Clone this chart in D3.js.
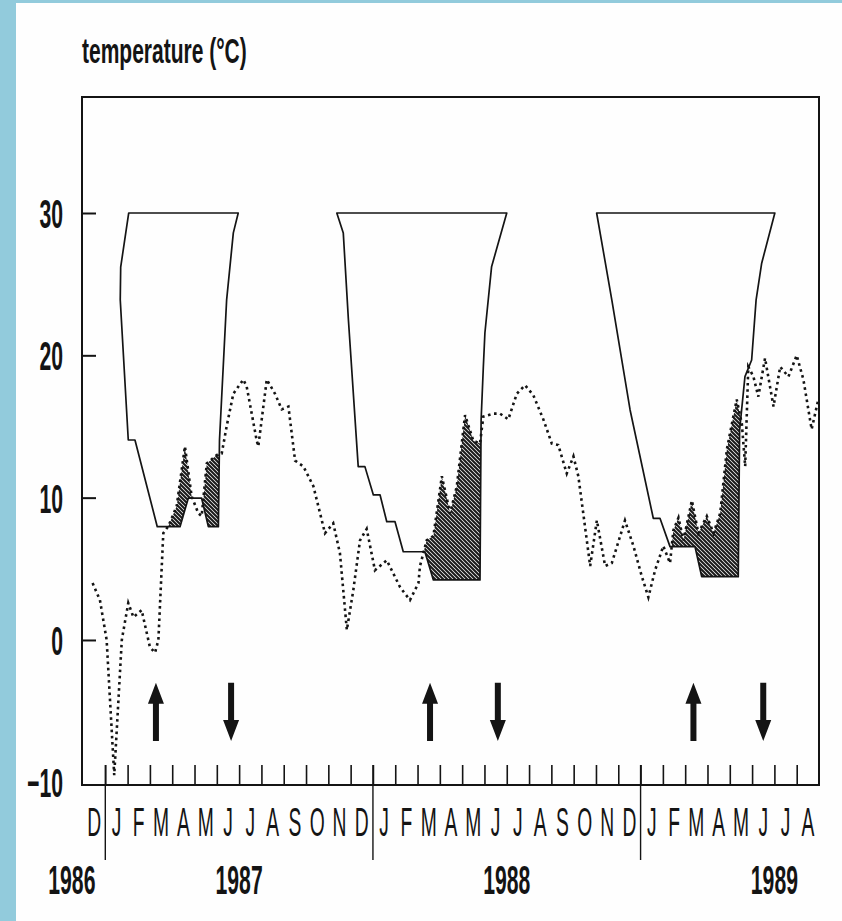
<!DOCTYPE html>
<html>
<head>
<meta charset="utf-8">
<script src="https://cdn.jsdelivr.net/npm/d3@7"></script>
<style>
  body { margin: 0; background: #fff; }
  svg { display: block; }
</style>
</head>
<body>
<div id="chart"></div>
<script>
// month index: 0 = 1 Dec 1986, 1 = 1 Jan 1987 ... 33 = 1 Sep 1989
let monthLetters = ["D", "J", "F", "M", "A", "M", "J", "J", "A", "S", "O", "N",
    "D", "J", "F", "M", "A", "M", "J", "J", "A", "S", "O", "N",
    "D", "J", "F", "M", "A", "M", "J", "J", "A"];
let yearLabels = [{label: "1986", m: -0.5}, {label: "1987", m: 7}, {label: "1988", m: 19}, {label: "1989", m: 31}];
let yearBreaks = [1, 13, 25];
let yTicks = [30, 20, 10, 0, -10];

// field temperature [month index, degC]
let fieldTemp = [[0.43, 4.0], [0.76, 2.8], [1.06, 0], [1.4, -9.5], [1.74, 0], [2.03, 2.6], [2.26, 1.6], [2.63, 2.1],
    [3.0, -0.5], [3.23, -0.9], [3.38, 0], [3.6, 7.5], [3.83, 8.0], [4.2, 9.4], [4.57, 13.6], [4.87, 10.1],
    [5.17, 8.9], [5.32, 8.7], [5.55, 12.4], [6.0, 13.0], [6.22, 13.1], [6.44, 15.0], [6.74, 17.3], [7.19, 18.3],
    [7.34, 17.8], [7.79, 14.0], [7.86, 13.6], [8.24, 18.3], [8.61, 17.3], [8.91, 16.2], [9.21, 16.4], [9.51, 12.6],
    [9.88, 12.2], [10.33, 10.8], [10.85, 7.5], [11.22, 8.2], [11.52, 6.1], [11.83, 0.7], [12.12, 3.5], [12.42, 7.0],
    [12.72, 7.8], [13.09, 4.9], [13.62, 5.6], [14.22, 3.7], [14.66, 2.8], [15.04, 4.0], [15.11, 5.2], [15.41, 7.0],
    [15.71, 7.3], [16.09, 11.5], [16.46, 8.9], [16.76, 10.8], [17.13, 15.8], [17.5, 14.0], [17.8, 13.8], [17.95, 15.7],
    [18.4, 15.9], [18.7, 15.9], [19.07, 15.5], [19.45, 17.3], [19.82, 17.9], [20.19, 17.2], [20.64, 15.5], [21.02, 13.8],
    [21.31, 13.7], [21.69, 11.7], [21.99, 12.9], [22.21, 11.5], [22.43, 8.9], [22.74, 5.2], [23.04, 8.4], [23.41, 5.2],
    [23.71, 5.4], [24.3, 8.4], [24.68, 6.6], [25.05, 4.5], [25.35, 3.0], [25.65, 4.9], [26.02, 6.6], [26.32, 5.4],
    [26.47, 7.7], [26.7, 8.6], [26.92, 7.0], [27.3, 9.8], [27.59, 7.5], [27.97, 8.7], [28.27, 7.5], [28.57, 8.9],
    [28.87, 13.4], [29.31, 16.9], [29.54, 15.2], [29.69, 12.2], [29.83, 19.2], [30.06, 18.5], [30.28, 17.1], [30.58, 19.8],
    [30.96, 16.4], [31.26, 19.2], [31.63, 18.5], [32.0, 20.0], [32.3, 18.3], [32.67, 14.8], [32.97, 16.9]];

// germination range: lower limit path, closed along the 30 degC upper limit
let envelope1987 = [[2.05, 30], [1.69, 26.2], [1.67, 23.9], [2.03, 14.05], [2.33, 14.05], [3.33, 7.96], [4.35, 7.96],
    [4.72, 9.96], [5.32, 9.96], [5.62, 7.96], [6.07, 7.96], [6.12, 14.05], [6.44, 23.9], [6.74, 28.6], [6.96, 30]];
let envelope1988 = [[11.38, 30], [11.67, 28.6], [11.9, 22.5], [12.34, 12.18], [12.64, 12.18], [13.02, 10.19], [13.32, 10.19],
    [13.62, 8.31], [13.99, 8.31], [14.36, 6.2], [15.33, 6.2], [15.71, 4.22], [17.8, 4.22], [17.85, 15.46], [17.95, 19.2],
    [18.02, 21.57], [18.32, 26.23], [19.0, 30]];
let envelope1989 = [[23.03, 30], [23.71, 23.9], [24.53, 16.16], [25.57, 8.55], [25.87, 8.55], [26.32, 6.56], [27.44, 6.56],
    [27.74, 4.45], [29.38, 4.45], [29.44, 14.75], [29.68, 18.5], [29.98, 19.67], [30.18, 23.9], [30.43, 26.47], [31.02, 30]];

let emergenceStart = [3.27, 15.56, 27.37];
let emergenceEnd = [6.64, 18.6, 30.5];

let W = 842, H = 921;
let svg = d3.select("#chart").append("svg").attr("width", W).attr("height", H);
svg.append("rect").attr("width", W).attr("height", H).attr("fill", "#92cbdc");
svg.append("rect").attr("x", 16).attr("y", 3).attr("width", W - 16).attr("height", H - 3).attr("fill", "#fefefe");

let x = d3.scaleLinear().domain([0, 33]).range([83, 819]);
let y = d3.scaleLinear().domain([-10.19, 38.15]).range([785, 97]);
let ink = "#141414";
let font = "'Liberation Sans', Arial, sans-serif";

let defs = svg.append("defs");
let pat = defs.append("pattern").attr("id", "hatch").attr("patternUnits", "userSpaceOnUse").attr("width", 4).attr("height", 4);
pat.append("rect").attr("width", 4).attr("height", 4).attr("fill", "#fff");
pat.append("path").attr("d", "M-1,-1L5,5M-1,3L1,5M3,-1L5,1").attr("stroke", "#1b1b1b").attr("stroke-width", 2.1);

let envelopes = [envelope1987, envelope1988, envelope1989];
let envLine = d3.line().x(d => x(d[0])).y(d => y(d[1]));
let clip = defs.append("clipPath").attr("id", "envClip");
envelopes.forEach(e => clip.append("path").attr("d", envLine(e) + "Z"));

// hatched = field temperature above the lower limit, inside the envelope
let under = d3.area().x(d => x(d[0])).y0(y.range()[0]).y1(d => y(d[1]));
svg.append("path").attr("d", under(fieldTemp)).attr("fill", "url(#hatch)").attr("clip-path", "url(#envClip)");

envelopes.forEach(e => {
    svg.append("path").attr("d", envLine(e) + "Z").attr("fill", "none")
        .attr("stroke", ink).attr("stroke-width", 1.7).attr("stroke-linejoin", "round");
});

svg.append("path").attr("d", d3.line().x(d => x(d[0])).y(d => y(d[1]))(fieldTemp))
    .attr("fill", "none").attr("stroke", ink).attr("stroke-width", 2.6).attr("stroke-dasharray", "2.6 3.6");

// frame
svg.append("rect").attr("x", x(0) - 1).attr("y", y.range()[1]).attr("width", x(33) - x(0) + 1)
    .attr("height", y.range()[0] - y.range()[1]).attr("fill", "none").attr("stroke", ink).attr("stroke-width", 2);

// y axis: inward ticks, condensed labels
let yAxis = svg.append("g").attr("transform", "translate(" + (x(0) - 1) + ",0)")
    .call(d3.axisLeft(y).tickValues(yTicks).tickSize(-14).tickPadding(19));
yAxis.select(".domain").remove();
yAxis.selectAll("line").attr("stroke", ink).attr("stroke-width", 2).filter(d => d === -10).remove();
yAxis.selectAll("text").attr("font-family", font).attr("font-weight", "bold").attr("font-size", 40)
    .attr("fill", ink).attr("x", -19 / 0.53).attr("dy", "0.36em").attr("transform", "scale(0.53,1)");

// x axis: month ticks pointing up
let xAxis = svg.append("g").attr("transform", "translate(0," + y.range()[0] + ")")
    .call(d3.axisBottom(x).tickValues(d3.range(1, 33)).tickSize(-20).tickFormat(""));
xAxis.select(".domain").remove();
xAxis.selectAll("line").attr("stroke", ink).attr("stroke-width", 1.6);
xAxis.selectAll(".yearBreak").data(yearBreaks).enter().append("line")
    .attr("x1", d => x(d)).attr("x2", d => x(d)).attr("y1", -20).attr("y2", 75)
    .attr("stroke", ink).attr("stroke-width", 1.4);

monthLetters.forEach((lt, i) => {
    svg.append("text").text(lt)
        .attr("transform", "translate(" + x(i + 0.5) + ",836) scale(0.47,1)")
        .attr("text-anchor", "middle").attr("font-family", font).attr("font-size", 41).attr("fill", ink);
});
yearLabels.forEach(d => {
    svg.append("text").text(d.label)
        .attr("transform", "translate(" + x(d.m) + ",894) scale(0.53,1)")
        .attr("text-anchor", "middle").attr("font-family", font).attr("font-weight", "bold").attr("font-size", 40).attr("fill", ink);
});

svg.append("text").text("temperature (°C)")
    .attr("transform", "translate(82,63) scale(0.6,1)")
    .attr("font-family", font).attr("font-weight", "bold").attr("font-size", 35).attr("fill", ink);

// emergence arrows
let arrowTop = y(-3.0), arrowBottom = y(-7.1);
function arrowPath(cx, up) {
    let tip = up ? arrowTop : arrowBottom;
    let tail = up ? arrowBottom : arrowTop;
    let s = up ? 1 : -1;
    let base = tip + s * 21;
    return "M" + cx + "," + tip + "L" + (cx + 8) + "," + base + "L" + (cx + 3) + "," + base + "L" + (cx + 3) + "," + tail +
        "L" + (cx - 3) + "," + tail + "L" + (cx - 3) + "," + base + "L" + (cx - 8) + "," + base + "Z";
}
emergenceStart.forEach(m => svg.append("path").attr("d", arrowPath(x(m), true)).attr("fill", ink));
emergenceEnd.forEach(m => svg.append("path").attr("d", arrowPath(x(m), false)).attr("fill", ink));
</script>
</body>
</html>
